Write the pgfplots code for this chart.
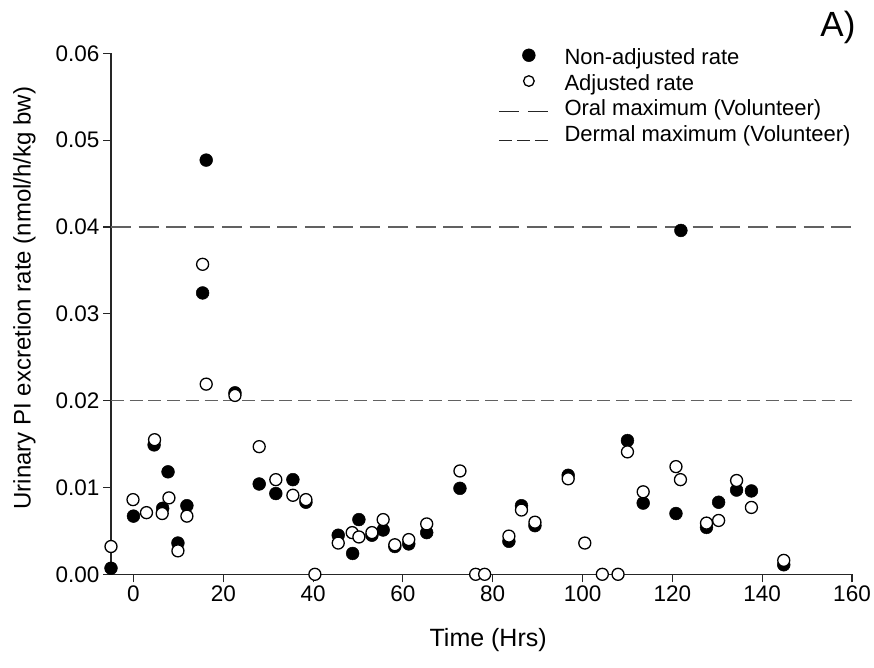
\documentclass[border=0pt]{standalone}
\usepackage{fontspec}
\setmainfont{Liberation Sans}
\usepackage{pgfplots}
\pgfplotsset{compat=1.18}
\tikzset{
  oralline/.style={color=black!62, line width=1.3pt, dash pattern=on 20pt off 7.7pt},
  dermline/.style={color=black!62, line width=1.3pt, dash pattern=on 13pt off 5.7pt},
}
\begin{document}
\begin{tikzpicture}
\useasboundingbox (-111pt,-93.7pt) rectangle (763pt,574.3pt);
\begin{axis}[
  at={(0pt,0pt)}, anchor=south west,
  scale only axis, width=741pt, height=521pt,
  xmin=-5, xmax=160, ymin=0, ymax=0.06,
  axis x line=bottom, axis y line=left,
  axis line style={-, line width=1.2pt, black!85},
  xtick={0,20,40,60,80,100,120,140,160},
  ytick={0,0.01,0.02,0.03,0.04,0.05,0.06},
  tick align=outside, major tick length=8pt,
  tick style={line width=1.1pt, black!85},
  scaled y ticks=false,
  yticklabel style={/pgf/number format/.cd, fixed, fixed zerofill, precision=2},
  /pgf/number format/assume math mode=true,
  ticklabel style={font=\fontsize{22.5}{26}\selectfont},
  clip=false,
  xlabel={Time (Hrs)},
  ylabel={Urinary PI excretion rate (nmol/h/kg bw)},
  xlabel style={font=\fontsize{25}{29}\selectfont, at={(axis description cs:0.509,-0.126)}, anchor=center},
  ylabel style={font=\fontsize{24}{28}\selectfont, at={(axis description cs:-0.117,0.53)}, anchor=center},
  legend cell align=left,
  legend style={draw=none, fill=none, at={(axis description cs:0.5223,1.012)}, anchor=north west,
    font=\fontsize{22}{26}\selectfont, inner sep=0pt, row sep=3.8pt, column sep=16pt,
    nodes={inner sep=0pt, text height=17pt, text depth=5pt}},
]
% reference lines (behind the points)
\addplot[oralline, forget plot] coordinates {(-5,0.04) (160,0.04)};
\addplot[dermline, forget plot] coordinates {(-5,0.02) (160,0.02)};

% Non-adjusted rate
\addplot[only marks, mark=*, mark size=6.4pt, mark options={fill=black, draw=black, line width=0.5pt},
  legend image code/.code={\draw plot[mark=*, mark size=6.4pt, mark options={fill=black, draw=black, line width=0.5pt}] coordinates {(30pt,3pt)};}]
coordinates {
(-5,0.0007) (0,0.0067) (4.6,0.0149) (6.5,0.0076) (7.7,0.0118) (9.9,0.0036)
(11.9,0.0079) (15.4,0.0324) (16.2,0.0477) (22.6,0.0209) (28,0.0104) (31.7,0.0093)
(35.5,0.0109) (38.4,0.0083) (45.6,0.0045) (48.8,0.0024) (50.2,0.0063) (53.1,0.0045)
(55.6,0.0051) (58.2,0.0032) (61.3,0.0035) (65.3,0.0048) (72.7,0.0099) (83.6,0.0038)
(86.4,0.0079) (89.4,0.0056) (96.8,0.0114) (110.0,0.0154) (113.5,0.0082) (120.8,0.0070)
(121.9,0.0396) (127.6,0.0054) (130.3,0.0083) (134.3,0.0097) (137.6,0.0096) (144.8,0.0011)
};
\addlegendentry{Non-adjusted rate}

% Adjusted rate
\addplot[only marks, mark=*, mark size=6.0pt, mark options={fill=white, draw=black, line width=1.3pt},
  legend image code/.code={\draw plot[mark=*, mark size=5.3pt, mark options={fill=white, draw=black, line width=1.3pt}] coordinates {(30pt,3pt)};}]
coordinates {
(-5,0.0032) (-0.1,0.0086) (2.9,0.0071) (4.7,0.0155) (6.4,0.0070) (7.9,0.0088)
(9.9,0.0027) (11.9,0.0067) (15.4,0.0357) (16.2,0.0219) (22.6,0.0206) (28,0.0147)
(31.7,0.0109) (35.5,0.0091) (38.4,0.0086) (40.4,0) (45.6,0.0036) (48.7,0.0048)
(50.2,0.0043) (53.1,0.0048) (55.6,0.0063) (58.2,0.0034) (61.3,0.0040) (65.3,0.0058)
(72.7,0.0119) (76.2,0) (78.2,0) (83.6,0.0044) (86.4,0.0074) (89.4,0.0060)
(96.8,0.0110) (100.5,0.0036) (104.4,0) (107.9,0) (110.0,0.0141) (113.5,0.0095)
(120.8,0.0124) (121.8,0.0109) (127.6,0.0059) (130.3,0.0062) (134.3,0.0108) (137.6,0.0077)
(144.8,0.0016)
};
\addlegendentry{Adjusted rate}

\addlegendimage{legend image code/.code={\draw[black!85, line width=1.3pt, dash pattern=on 20pt off 9pt] (0pt,-2pt) -- (49pt,-2pt);}}
\addlegendentry{Oral maximum (Volunteer)}
\addlegendimage{legend image code/.code={\draw[black!85, line width=1.2pt, dash pattern=on 13pt off 5pt] (0pt,-5pt) -- (49pt,-5pt);}}
\addlegendentry{Dermal maximum (Volunteer)}

\node[font=\fontsize{35}{38}\selectfont, anchor=center] at (rel axis cs:0.981,1.05) {A)};
\end{axis}
\end{tikzpicture}
\end{document}
